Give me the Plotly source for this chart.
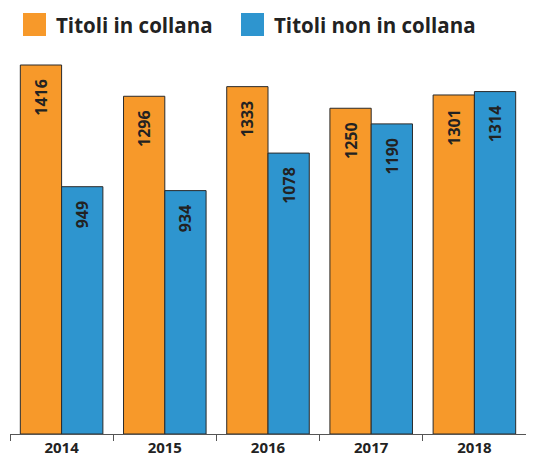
import plotly.graph_objects as go

years = ["2014", "2015", "2016", "2017", "2018"]
in_collana = [1416, 1296, 1333, 1250, 1301]
non_collana = [949, 934, 1078, 1190, 1314]
series_names = ["Titoli in collana", "Titoli non in collana"]
colors = ["#F7992A", "#2E95CF"]

PAD = "<span style='color:rgba(0,0,0,0)'>_.</span>"

fig = go.Figure()
for name, vals, col in zip(series_names, [in_collana, non_collana], colors):
    fig.add_trace(go.Bar(
        x=years, y=vals, name=name,
        marker=dict(color=col, line=dict(color="#2a2a2a", width=1)),
        text=[str(v) + PAD for v in vals], textposition="inside",
        insidetextanchor="end", textangle=-90,
        textfont=dict(family="Open Sans", size=16, color="#222222", weight="bold"),
        showlegend=False,
    ))

# page body has an 8px margin, so the figure is drawn 8px in from the window edge
OFF = 8
W, H = 534 - OFF, 462 - OFF
ml, mr, mt, mb = 10 - OFF, 8, 55 - OFF, 28
pw, ph = W - ml - mr, H - mt - mb

def px(x):
    return (x - OFF - ml) / pw

def py(y):
    return (H - mb - (y - OFF)) / ph

shapes = []
annotations = []
leg = [(23, 54), (241, 272)]
for (sx, tx), name, col in zip(leg, series_names, colors):
    shapes.append(dict(type="rect", xref="paper", yref="paper",
                       x0=px(sx), x1=px(sx + 23), y0=py(36), y1=py(13),
                       fillcolor=col, line=dict(width=0)))
    annotations.append(dict(xref="paper", yref="paper", x=px(tx), y=py(25),
                            xanchor="left", yanchor="middle", showarrow=False,
                            text=name,
                            font=dict(family="Open Sans", size=20.5, color="#222222", weight="bold")))

ymax = 1416 * (434 - 55) / (434 - 65)

fig.update_layout(
    width=W, height=H,
    margin=dict(l=ml, r=mr, t=mt, b=mb, autoexpand=False),
    paper_bgcolor="white", plot_bgcolor="white",
    barmode="group", bargap=0.2, bargroupgap=0,
    uniformtext=dict(mode="show", minsize=10),
    shapes=shapes, annotations=annotations,
    xaxis=dict(showline=True, linecolor="#555555", linewidth=1, automargin=False,
               ticks="outside", tickson="boundaries", ticklen=6, tickcolor="#555555",
               tickfont=dict(family="Open Sans", size=15, color="#222222", weight="bold"),
               showgrid=False),
    yaxis=dict(range=[0, ymax], visible=False, showgrid=False, automargin=False),
)

fig.write_html("out.html")
